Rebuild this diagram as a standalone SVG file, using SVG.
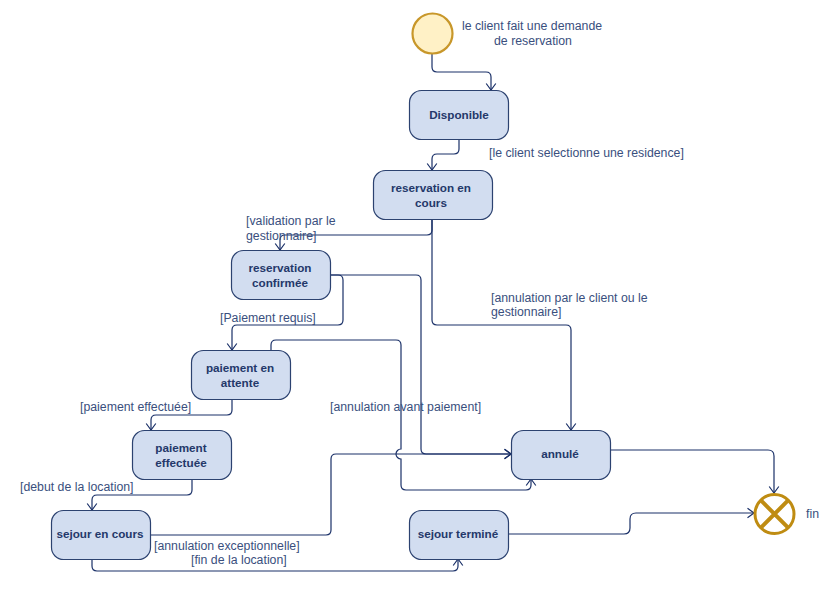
<svg xmlns="http://www.w3.org/2000/svg" width="839" height="592" viewBox="0 0 839 592">
  <style>
    .node rect { fill: #d2ddf0; stroke: #2c4270; stroke-width: 1.2; }
    .node text { font-family: "Liberation Sans", Arial, sans-serif; font-size: 11.7px; font-weight: bold; fill: #24386a; text-anchor: middle; }
    .lbl { font-family: "Liberation Sans", Arial, sans-serif; font-size: 12.3px; fill: #3a4f7e; }
    .edge { fill: none; stroke: #1a3068; stroke-width: 1.2; marker-end: url(#arrow); }
  </style>
  <defs>
    <marker id="arrow" viewBox="-8 -6 9 12" refX="0" refY="0" markerWidth="9" markerHeight="12" markerUnits="userSpaceOnUse" orient="auto">
      <path d="M-6.5,-4.8 L0,0 L-6.5,4.8" fill="none" stroke="#1a3068" stroke-width="1.2"/>
    </marker>
  </defs>

  <rect width="839" height="592" fill="#ffffff"/>

  <!-- connectors -->
  <g id="connectors">
    <path class="edge" d="M432,54 V67 Q432,72 437,72 H486 Q491,72 491,77 V90"/>
    <path class="edge" d="M459,139 V149 Q459,154 454,154 H437 Q432,154 432,159 V170"/>
    <path class="edge" d="M432,219 V230 Q432,235 427,235 H285 Q280,235 280,240 V250"/>
    <path class="edge" d="M432,219 V320 Q432,325 437,325 H566 Q571,325 571,330 V430"/>
    <path class="edge" d="M330,275 H338 Q343,275 343,280 V320 Q343,325 338,325 H237 Q232,325 232,330 V350"/>
    <path class="edge" d="M330,275 H416 Q421,275 421,280 V449 Q421,454 426,454 H511"/>
    <path class="edge" d="M271,350 V345 Q271,340 276,340 H396 Q401,340 401,345 V449 A5,5 0 0 0 401,459 V485 Q401,490 406,490 H526 Q531,490 531,485 V479"/>
    <path class="edge" d="M232,399 V410 Q232,415 227,415 H156 Q151,415 151,420 V430"/>
    <path class="edge" d="M192,479 V490 Q192,495 187,495 H97 Q92,495 92,500 V510"/>
    <path class="edge" d="M150,535 H326 Q331,535 331,530 V459 Q331,454 336,454 H511"/>
    <path class="edge" d="M92,559 V566 Q92,571 97,571 H453 Q458,571 458,566 V559"/>
    <path class="edge" d="M508,534 H624 Q630,534 630,528 V519 Q630,513 636,513 H754"/>
    <path class="edge" d="M610,450 H768 Q774,450 774,456 V493"/>
  </g>

  <!-- connector labels -->
  <g id="labels">
    <text class="lbl" x="532" y="30" text-anchor="middle">le client fait une demande</text>
    <text class="lbl" x="533" y="45" text-anchor="middle">de reservation</text>
    <text class="lbl" x="489" y="157">[le client selectionne une residence]</text>
    <text class="lbl" x="246" y="225">[validation par le</text>
    <text class="lbl" x="246" y="240">gestionnaire]</text>
    <text class="lbl" x="491" y="302">[annulation par le client ou le</text>
    <text class="lbl" x="491" y="316">gestionnaire]</text>
    <text class="lbl" x="220" y="322">[Paiement requis]</text>
    <text class="lbl" x="80" y="411">[paiement effectuée]</text>
    <text class="lbl" x="330" y="411">[annulation avant paiement]</text>
    <text class="lbl" x="20" y="491">[debut de la location]</text>
    <text class="lbl" x="154" y="550">[annulation exceptionnelle]</text>
    <text class="lbl" x="191" y="564">[fin de la location]</text>
    <text class="lbl" x="806" y="518">fin</text>
  </g>

  <!-- initial state -->
  <g id="start">
    <circle cx="432.5" cy="33.5" r="20" fill="#fff1c6" stroke="#c8972a" stroke-width="2.2"/>
  </g>

  <!-- final state -->
  <g id="end">
    <circle cx="774.5" cy="514" r="19.5" fill="#ffffff" stroke="#bf8c12" stroke-width="3"/>
    <path d="M760.7,500.2 L788.3,527.8 M788.3,500.2 L760.7,527.8" stroke="#bf8c12" stroke-width="4"/>
  </g>

  <g id="disponible" class="node">
    <rect x="409.5" y="90.5" width="99" height="49" rx="12"/>
    <text x="459" y="119">Disponible</text>
  </g>

  <g id="reservation-en-cours" class="node">
    <rect x="373.5" y="170.5" width="119" height="49" rx="12"/>
    <text x="431" y="192">reservation en</text>
    <text x="431" y="207">cours</text>
  </g>

  <g id="reservation-confirmee" class="node">
    <rect x="231.5" y="250.5" width="99" height="49" rx="12"/>
    <text x="280" y="272">reservation</text>
    <text x="280" y="287">confirmée</text>
  </g>

  <g id="paiement-en-attente" class="node">
    <rect x="191.5" y="350.5" width="99" height="49" rx="12"/>
    <text x="240" y="372">paiement en</text>
    <text x="240" y="387">attente</text>
  </g>

  <g id="paiement-effectuee" class="node">
    <rect x="132.5" y="430.5" width="99" height="49" rx="12"/>
    <text x="181" y="452">paiement</text>
    <text x="181" y="467">effectuée</text>
  </g>

  <g id="sejour-en-cours" class="node">
    <rect x="51.5" y="510.5" width="99" height="49" rx="12"/>
    <text x="100" y="538">sejour en cours</text>
  </g>

  <g id="sejour-termine" class="node">
    <rect x="409.5" y="510.5" width="99" height="49" rx="12"/>
    <text x="458" y="538">sejour terminé</text>
  </g>

  <g id="annule" class="node">
    <rect x="511.5" y="430.5" width="99" height="49" rx="12"/>
    <text x="560" y="458">annulé</text>
  </g>
</svg>
